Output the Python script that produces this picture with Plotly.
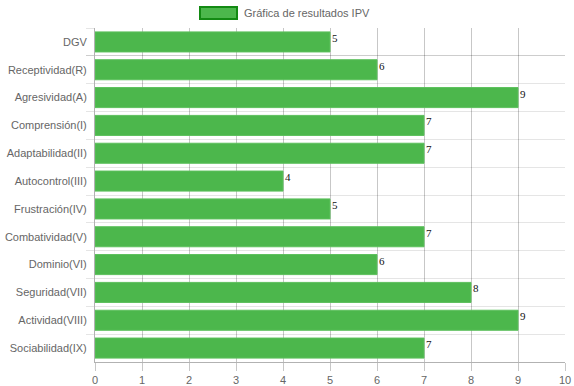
import plotly.graph_objects as go

categories = ["DGV", "Receptividad(R)", "Agresividad(A)", "Comprensión(I)", "Adaptabilidad(II)",
              "Autocontrol(III)", "Frustración(IV)", "Combatividad(V)", "Dominio(VI)",
              "Seguridad(VII)", "Actividad(VIII)", "Sociabilidad(IX)"]
values = [5, 6, 9, 7, 7, 4, 5, 7, 6, 8, 9, 7]
series_name = "Gráfica de resultados IPV"
x_ticks = list(range(0, 11))

fig = go.Figure()
fig.add_trace(go.Bar(
    y=categories, x=values, orientation="h", name=series_name,
    marker=dict(color="#4cb74c", line=dict(color="#5cc05c", width=1)),
    width=0.72, showlegend=False, hoverinfo="x+y",
))

for c, v in zip(categories, values):
    fig.add_annotation(x=v, y=c, text=str(v), showarrow=False, xanchor="left", yanchor="top",
                       xshift=0, yshift=12, font=dict(family="Liberation Serif", size=11, color="#111"))

# legend drawn manually (Chart.js style)
W, H, L, T, B, R = 574, 386, 95, 28, 24, 9
PW, PH = W - L - R, H - T - B
def px(x): return (x - L) / PW
def py(y): return (H - B - y) / PH
fig.add_shape(type="rect", xref="paper", yref="paper", x0=px(200), x1=px(237), y0=py(19), y1=py(7),
              fillcolor="#4cb74c", line=dict(color="#138a13", width=2), layer="above")
fig.add_annotation(xref="paper", yref="paper", x=px(242), y=py(13), text=series_name, showarrow=False,
                   xanchor="left", yanchor="middle", font=dict(family="Liberation Sans", size=11, color="#666"))

fig.update_layout(
    width=W, height=H, margin=dict(l=L, r=R, t=T, b=B),
    plot_bgcolor="white", paper_bgcolor="white",
    font=dict(family="Liberation Sans", size=11, color="#666666"),
    bargap=0.28,
)
fig.update_xaxes(range=[0, 10], tickvals=x_ticks, showgrid=True, gridcolor="rgba(0,0,0,0.22)", gridwidth=1,
                 ticks="outside", ticklen=8, tickcolor="rgba(0,0,0,0.22)", showline=True,
                 linecolor="rgba(0,0,0,0.3)", zeroline=False, layer="above traces", automargin=False,
                 tickfont=dict(size=11, color="#666666"))
fig.update_yaxes(autorange="reversed", tickson="boundaries", showgrid=True, gridcolor="rgba(0,0,0,0.1)",
                 ticks="outside", ticklen=8, tickcolor="rgba(0,0,0,0.1)", showline=True, automargin=False,
                 ticklabelstandoff=5,
                 linecolor="rgba(0,0,0,0.3)", zeroline=False, tickfont=dict(size=11, color="#666666"))

fig.write_html("out.html")
